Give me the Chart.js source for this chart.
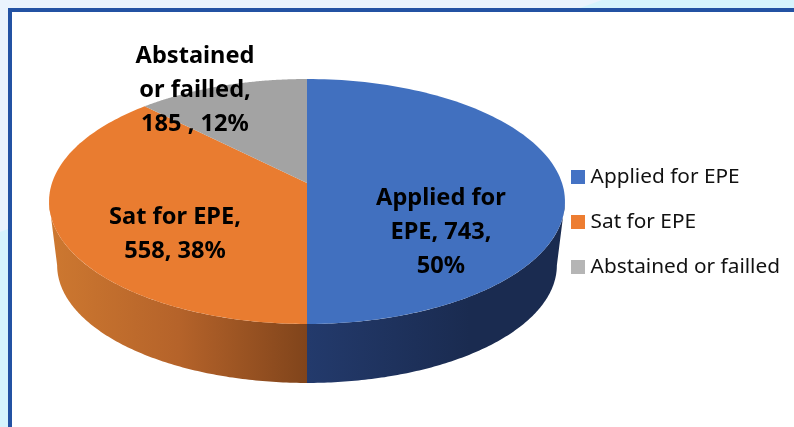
<!DOCTYPE html>
<html>
<head>
<meta charset="utf-8">
<title>EPE</title>
<script src="https://cdn.jsdelivr.net/npm/chart.js@4"></script>
<style>
    html, body { margin: 0; padding: 0; overflow: hidden; }
    body {
        width: 794px; height: 427px; position: relative;
        background: #eaf3fd;
    }
    #cornerTop, #cornerLeft { position: absolute; background: #d6f4fd; }
    #cornerTop { left: 580px; top: 0; width: 214px; height: 8px; clip-path: polygon(22px 0, 100% 0, 100% 100%, 0 100%); }
    #cornerLeft { left: 0; top: 229px; width: 8px; height: 198px; clip-path: polygon(0 3px, 100% 0, 100% 100%, 0 100%); }
    #panel {
        position: absolute; left: 8px; top: 8px; width: 800px; height: 430px;
        box-sizing: border-box; background: #fff;
        border: 4px solid #2352a3;
    }
    #chart { position: absolute; left: 0; top: 0; }
</style>
</head>
<body>
<div id="cornerTop"></div>
<div id="cornerLeft"></div>
<div id="panel"></div>
<canvas id="chart" width="794" height="427"></canvas>
<script>
const categories = ['Applied for EPE', 'Sat for EPE', 'Abstained or failled'];
const counts = [743, 558, 185];
const sliceColors = ['#4170bf', '#e97c30', '#a3a3a3'];
const legendColors = ['#4472c4', '#ed7d31', '#b5b5b5'];
const labelLines = [
    ['Applied for', 'EPE, 743,', '50%'],
    ['Sat for EPE,', '558, 38%'],
    ['Abstained', 'or failled,', '185 , 12%']
];

// tilted disc: same perspective for top and bottom face
const tilt = 0.151;
const topFace = { cx: 307, cy: 183, a: 255, b: 119.7 };
const bottomFace = { cx: 307, cy: 247.5, a: 247, b: 115 };
const labelAnchors = [[441, 198.5], [175, 217], [195, 56]];

function project(face, angle) {
    const x = Math.cos(angle);
    const y = Math.sin(angle);
    const w = 1 - tilt * y;
    return [face.cx + face.a * x / w, face.cy + face.b * y / w];
}

function traceArc(ctx, face, from, to) {
    const steps = 120;
    for (let i = 0; i <= steps; i++) {
        const p = project(face, from + (to - from) * i / steps);
        ctx.lineTo(p[0], p[1]);
    }
}

// legend square wider than the slot the legend keeps for it, so the text sits closer
function legendSquare(color) {
    const c = document.createElement('canvas');
    c.width = 14;
    c.height = 14;
    const g = c.getContext('2d');
    g.fillStyle = color;
    g.fillRect(0, 0, 14, 14);
    return c;
}

const pie3d = {
    id: 'pie3d',
    // the library's arcs give the angles, this only projects them
    beforeDatasetsDraw(chart) {
        const ctx = chart.ctx;
        const arcs = chart.getDatasetMeta(0).data;
        const edge = Math.asin(tilt);

        const orangeWall = ctx.createLinearGradient(50, 0, 307, 0);
        orangeWall.addColorStop(0, '#cd7830');
        orangeWall.addColorStop(0.5, '#b5632a');
        orangeWall.addColorStop(1, '#80441b');
        const blueWall = ctx.createLinearGradient(307, 0, 470, 0);
        blueWall.addColorStop(0, '#233a6c');
        blueWall.addColorStop(1, '#1a2b50');
        const walls = [blueWall, orangeWall, null];

        arcs.forEach(function (arc, i) {
            const from = Math.max(arc.startAngle, edge);
            const to = Math.min(arc.endAngle, Math.PI - edge);
            if (!walls[i] || to <= from) {
                return;
            }
            ctx.beginPath();
            traceArc(ctx, topFace, from, to);
            traceArc(ctx, bottomFace, to, from);
            ctx.closePath();
            ctx.fillStyle = walls[i];
            ctx.fill();
        });

        arcs.forEach(function (arc, i) {
            ctx.beginPath();
            ctx.moveTo(topFace.cx, topFace.cy);
            traceArc(ctx, topFace, arc.startAngle, arc.endAngle);
            ctx.closePath();
            ctx.fillStyle = sliceColors[i];
            ctx.fill();
        });

        ctx.save();
        ctx.fillStyle = '#000';
        ctx.font = 'bold 23.6px "Noto Sans"';
        ctx.textAlign = 'center';
        ctx.textBaseline = 'middle';
        labelLines.forEach(function (lines, i) {
            lines.forEach(function (line, n) {
                ctx.fillText(line, labelAnchors[i][0], labelAnchors[i][1] + n * 34);
            });
        });
        ctx.restore();
        return false;
    }
};

new Chart(document.getElementById('chart'), {
    type: 'pie',
    data: {
        labels: categories,
        datasets: [{
            data: counts,
            backgroundColor: legendColors,
            borderWidth: 0
        }]
    },
    options: {
        responsive: false,
        animation: false,
        layout: { padding: { top: 17, right: 4 } },
        plugins: {
            tooltip: { enabled: false },
            legend: {
                position: 'right',
                labels: {
                    color: '#111',
                    usePointStyle: true,
                    pointStyleWidth: 5.2,
                    boxHeight: 14,
                    padding: 24.2,
                    font: { family: '"Noto Sans"', size: 20.8 },
                    generateLabels(chart) {
                        return Chart.overrides.pie.plugins.legend.labels.generateLabels(chart).map(function (item, i) {
                            item.pointStyle = legendSquare(legendColors[i]);
                            return item;
                        });
                    }
                }
            }
        }
    },
    plugins: [pie3d]
});
</script>
</body>
</html>
